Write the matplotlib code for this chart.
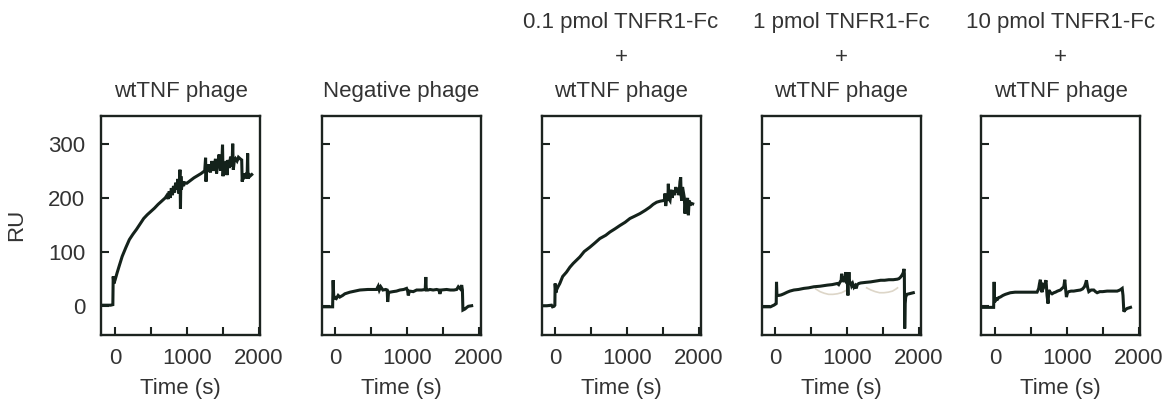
import matplotlib
matplotlib.use("Agg")
import matplotlib.pyplot as plt
from matplotlib.ticker import FixedLocator

plt.rcParams['font.family'] = ['Liberation Sans', 'DejaVu Sans']

titles = [
    "wtTNF phage",
    "Negative phage",
    "0.1 pmol TNFR1-Fc\n+\nwtTNF phage",
    "1 pmol TNFR1-Fc\n+\nwtTNF phage",
    "10 pmol TNFR1-Fc\n+\nwtTNF phage",
]

# Panel 1: wtTNF phage
t_wt = [-190, -120, -60, -30, -25, -20, -15, -8, 0, 15, 30, 60, 100, 150, 200,
        250, 300, 350, 400, 450, 500, 550, 600, 650, 700, 720, 740, 755, 770,
        785, 800, 815, 830, 845, 860, 875, 890, 905, 912, 918, 925, 940, 955,
        970, 1000, 1050, 1100, 1150, 1200, 1250, 1262, 1268, 1275, 1290, 1310,
        1330, 1350, 1365, 1380, 1400, 1415, 1430, 1450, 1470, 1490, 1498, 1505,
        1515, 1530, 1550, 1560, 1575, 1590, 1610, 1630, 1640, 1648, 1660, 1680,
        1700, 1720, 1745, 1765, 1772, 1785, 1800, 1820, 1840, 1848, 1853, 1860,
        1880, 1905]
ru_wt = [2, 2, 2, 3, 55, 48, 42, 45, 48, 55, 62, 75, 92, 108, 123,
         133, 142, 152, 162, 169, 175, 181, 188, 194, 200, 204, 198, 212, 200,
         218, 205, 222, 210, 228, 215, 235, 208, 252, 180, 240, 215, 230, 222,
         228, 227, 232, 237, 241, 245, 250, 274, 230, 252, 248, 262, 247, 268,
         250, 258, 272, 245, 262, 280, 250, 270, 298, 240, 265, 255, 268, 242,
         270, 255, 276, 258, 300, 252, 266, 272, 268, 275, 272, 270, 230, 245,
         238, 242, 236, 282, 235, 245, 240, 243]

# Panel 2: Negative phage
t_neg = [-185, -120, -60, -40, -33, -25, -9, 10, 37, 60, 100, 130, 200, 270, 340,
         450, 572, 595, 610, 630, 660, 700, 720, 727, 740, 758, 800, 850, 897,
         950, 990, 1005, 1014, 1030, 1083, 1130, 1200, 1250, 1258, 1265, 1290,
         1316, 1360, 1409, 1440, 1455, 1470, 1548, 1600, 1650, 1688, 1711, 1740,
         1758, 1768, 1775, 1804, 1830, 1851, 1897]
ru_neg = [-1, -1, -1, -1, 48, 20, 15, 14, 20, 17, 20, 23, 26, 28, 30,
          31, 31, 37, 30, 36, 30, 31, 30, 8, 26, 26, 27, 28, 30,
          31, 33, 28, 20, 28, 27, 30, 30, 31, 54, 30, 30,
          31, 30, 31, 30, 23, 30, 31, 30, 30, 31, 36, 32,
          39, 30, -7, -5, -2, 0, 1]

# Panel 3: 0.1 pmol TNFR1-Fc + wtTNF phage
t_01 = [-195, -120, -56, -42, -20, -9, -5, 5, 14, 35, 60, 100, 153, 200, 246,
        300, 339, 400, 479, 550, 618, 700, 758, 830, 897, 970, 1037, 1100, 1176,
        1250, 1316, 1360, 1409, 1460, 1502, 1520, 1525, 1535, 1550, 1565, 1572,
        1580, 1595, 1610, 1625, 1641, 1660, 1675, 1688, 1705, 1720, 1734, 1744,
        1750, 1758, 1770, 1781, 1795, 1804, 1815, 1827, 1840, 1851, 1862, 1874,
        1890, 1911]
ru_01 = [1, 1, 2, -1, 0, 2, 42, 25, 30, 36, 42, 55, 63, 72, 79,
         86, 91, 101, 109, 117, 125, 131, 137, 143, 149, 155, 162, 166, 171,
         177, 183, 188, 192, 194, 195, 197, 208, 185, 200, 196, 226, 198, 195,
         215, 200, 214, 205, 220, 210, 218, 205, 230, 238, 205, 195, 220, 211,
         200, 171, 195, 189, 200, 168, 195, 186, 190, 189]

# Panel 4: 1 pmol TNFR1-Fc + wtTNF phage
t_1 = [-186, -120, -70, -40, -23, 0, 10, 14, 20, 30, 47, 80, 116, 163, 200, 256,
       320, 395, 460, 535, 620, 721, 790, 860, 880, 900, 915, 921, 935, 953,
       965, 977, 990, 1000, 1009, 1016, 1023, 1035, 1046, 1060, 1075, 1093,
       1110, 1125, 1139, 1160, 1186, 1250, 1325, 1372, 1420, 1465, 1520, 1580,
       1640, 1697, 1720, 1744, 1765, 1780, 1790, 1795, 1800, 1806, 1814, 1830,
       1860, 1890, 1920]
ru_1 = [-1, -1, -1, 1, 2, 4, 5, 45, 20, 20, 20, 21, 23, 26, 28, 30,
        31, 33, 34, 36, 37, 39, 40, 42, 40, 45, 48, 60, 45, 50,
        48, 63, 45, 48, 20, 50, 63, 40, 45, 38, 42, 35,
        38, 33, 40, 42, 43, 44, 45, 46, 47, 48, 48, 49,
        49, 50, 51, 54, 58, 62, 69, 60, -41, 5, 17, 22,
        23, 24, 25]

# faint reference traces in panel 4
t_ghost_a = [560, 620, 680, 740, 800, 860, 920, 980, 1000]
ru_ghost_a = [32, 27, 24, 22, 22, 23, 25, 29, 31]
t_ghost_b = [1270, 1330, 1390, 1450, 1510, 1570, 1630, 1680, 1700]
ru_ghost_b = [34, 30, 27, 25, 25, 26, 28, 32, 34]

# Panel 5: 10 pmol TNFR1-Fc + wtTNF phage
t_10 = [-181, -120, -60, -19, -12, -6, 5, 19, 35, 51, 74, 110, 144, 214, 280, 353,
        450, 586, 600, 609, 620, 632, 645, 656, 668, 679, 695, 711, 725, 739,
        750, 758, 775, 795, 820, 842, 870, 911, 935, 958, 965, 972, 985, 995,
        1010, 1028, 1060, 1097, 1140, 1190, 1220, 1246, 1262, 1274, 1290, 1307,
        1340, 1376, 1400, 1423, 1460, 1500, 1562, 1620, 1702, 1740, 1772, 1783,
        1795, 1810, 1841, 1865, 1888]
ru_10 = [-2, -2, -2, -2, 45, 8, 10, 14, 13, 16, 17, 20, 22, 25, 26, 26,
         26, 26, 30, 33, 42, 49, 30, 26, 38, 36, 42, 48, 20, 5,
         30, 28, 25, 23, 25, 26, 28, 30, 33, 36, 42, 49, 30, 17,
         25, 27, 28, 28, 29, 30, 32, 36, 42, 48, 35, 27,
         30, 30, 27, 25, 27, 27, 28, 28, 28, 30, 33, 20,
         -10, -7, -4, -3, -2]

times = [t_wt, t_neg, t_01, t_1, t_10]
values = [ru_wt, ru_neg, ru_01, ru_1, ru_10]

y_ticks = [0, 100, 200, 300]
x_major = [0, 1000, 2000]
x_minor = [500, 1500]

line_color = "#14221b"
frame_color = "#1c231f"
text_color = "#333333"

fig = plt.figure(figsize=(11.67, 4.0), dpi=100)
W, H = 1167, 400
lefts = [101, 321.5, 541.5, 761.5, 981]
ax_w, ax_top, ax_bot = 159, 115.5, 335

fs = 16
axes = []
for i in range(5):
    ax = fig.add_axes([lefts[i] / W, 1 - ax_bot / H, ax_w / W, (ax_bot - ax_top) / H])
    ax.plot(times[i], values[i], color=line_color, lw=2.2, solid_joinstyle='miter')
    if i == 3:
        ax.plot(t_ghost_a, ru_ghost_a, color="#ddd6c8", lw=1.2, zorder=1)
        ax.plot(t_ghost_b, ru_ghost_b, color="#ddd6c8", lw=1.2, zorder=1)
    ax.set_xlim(-195, 2020)
    ax.set_ylim(-53, 352)
    ax.xaxis.set_major_locator(FixedLocator(x_major))
    ax.xaxis.set_minor_locator(FixedLocator(x_minor))
    ax.set_xticklabels([str(v) for v in x_major])
    ax.yaxis.set_major_locator(FixedLocator(y_ticks))
    ax.tick_params(axis='both', which='both', direction='in', length=5.5, width=1.5,
                   colors=frame_color, labelcolor=text_color, labelsize=fs)
    ax.tick_params(axis='x', which='both', top=False, pad=9)
    ax.tick_params(axis='y', which='both', right=False, pad=11.5)
    if i == 0:
        ax.set_yticklabels([str(v) for v in y_ticks])
        ax.set_ylabel("RU", fontsize=fs, color=text_color, labelpad=15)
    else:
        ax.set_yticklabels([])
    for sp in ax.spines.values():
        sp.set_linewidth(1.7)
        sp.set_color(frame_color)
    ax.set_xlabel("Time (s)", fontsize=fs, color=text_color, labelpad=7)
    ax.set_title(titles[i], fontsize=fs, color=text_color, pad=13, linespacing=1.85)
    axes.append(ax)

fig.savefig("out.png", dpi=100, facecolor="white")
